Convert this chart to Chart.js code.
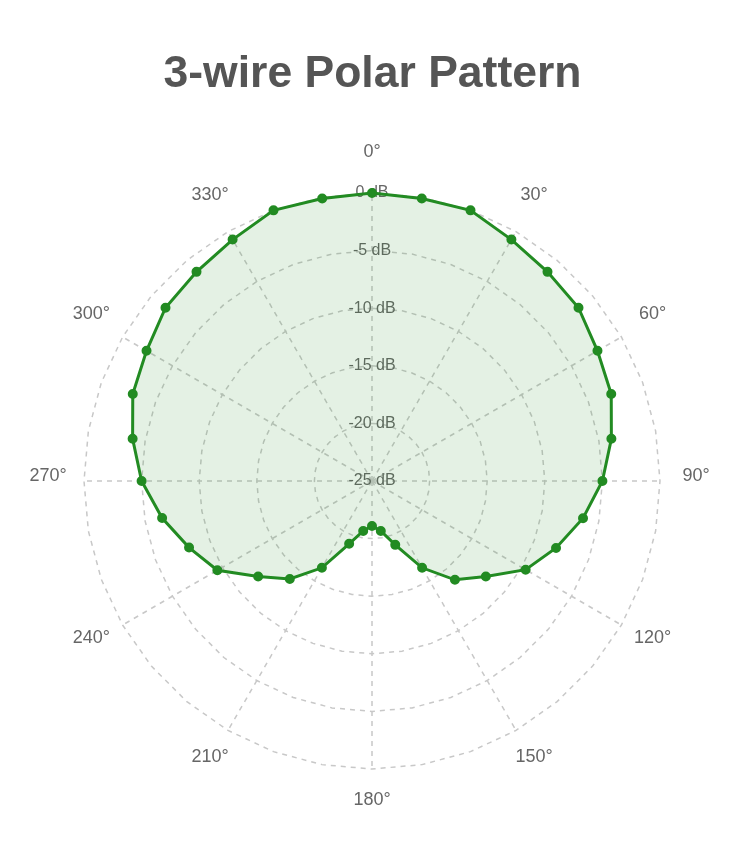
<!DOCTYPE html>
<html>
<head>
<meta charset="utf-8">
<title>3-wire Polar Pattern</title>
<script src="https://cdn.jsdelivr.net/npm/chart.js@4.4.1/dist/chart.umd.min.js"></script>
<style>
  body { margin: 0; background: #fff; }
  #caja { position: relative; width: 729px; height: 842px; }
</style>
</head>
<body>
<div id="caja"><canvas id="myChart"></canvas></div>
<script>
// angulos cada 10 grados
const angulos = [0, 10, 20, 30, 40, 50, 60, 70, 80, 90, 100, 110,
  120, 130, 140, 150, 160, 170, 180, 190, 200, 210, 220, 230,
  240, 250, 260, 270, 280, 290, 300, 310, 320, 330, 340, 350];

// nivel en dB
const niveles = [0, -0.1, 0, -0.8, -1.3, -1.6, -2.4, -2.9, -3.9, -5.0, -6.4, -8.0,
  -9.6, -12.1, -13.8, -16.3, -19.1, -20.6, -21.1, -20.6, -19.2, -16.3, -13.9, -12.1,
  -9.5, -8.1, -6.5, -5.0, -3.9, -2.9, -2.4, -1.6, -1.3, -0.8, 0, -0.1];

const ticksDb = [-25, -20, -15, -10, -5, 0];

const labels = angulos.map((a) => a + "°");
const fuente = "'Liberation Sans', Arial, sans-serif";

// etiquetas de angulo centradas alrededor del circulo (solo cada 30°)
const etiquetasPolares = {
  id: "etiquetasPolares",
  afterDraw(chart) {
    const r = chart.scales.r;
    const ctx = chart.ctx;
    ctx.save();
    ctx.font = "18px " + fuente;
    ctx.fillStyle = "#666";
    ctx.textAlign = "center";
    ctx.textBaseline = "middle";
    labels.forEach((txt, i) => {
      if (i % 3 !== 0) return;
      const p = r.getPointPosition(i, r.drawingArea + 36);
      ctx.fillText(txt, p.x, p.y - 5);
    });
    ctx.restore();
  },
};

const config = {
  type: "radar",
  data: {
    labels,
    datasets: [
      {
        label: "3-wire",
        data: niveles,
        borderColor: "#228B22",
        backgroundColor: "rgba(34, 139, 34, 0.12)",
        pointBackgroundColor: "#228B22",
        pointBorderColor: "#228B22",
        borderWidth: 3,
        pointRadius: 4,
        pointBorderWidth: 2,
        fill: "start",
      },
    ],
  },
  options: {
    responsive: true,
    maintainAspectRatio: false,
    animation: false,
    layout: { padding: { top: 48, bottom: 13, left: 74, right: 58 } },
    plugins: {
      legend: { display: false },
      tooltip: { enabled: false },
      title: {
        display: true,
        text: "3-wire Polar Pattern",
        color: "#555",
        font: { size: 44.5, weight: "bold", family: fuente },
        padding: { top: 0, bottom: 33 },
      },
    },
    scales: {
      r: {
        min: ticksDb[0],
        max: ticksDb[ticksDb.length - 1],
        afterBuildTicks: (scale) => {
          scale.ticks = ticksDb.map((v) => ({ value: v }));
        },
        angleLines: {
          color: (ctx) => (ctx.index % 3 === 0 ? "#c8c8c8" : "rgba(0,0,0,0)"),
          lineWidth: (ctx) => (ctx.index % 3 === 0 ? 1.5 : 0),
          borderDash: [5, 5],
        },
        grid: { color: "#c8c8c8", lineWidth: 1.5 },
        border: { dash: [5, 5] },
        pointLabels: { display: false },
        ticks: {
          color: "#666",
          showLabelBackdrop: false,
          font: { size: 16, family: fuente },
          callback: (v) => v + " dB",
        },
      },
    },
  },
  plugins: [etiquetasPolares],
};

const myChart = document.getElementById("myChart");
new Chart(myChart, config);
</script>
</body>
</html>
